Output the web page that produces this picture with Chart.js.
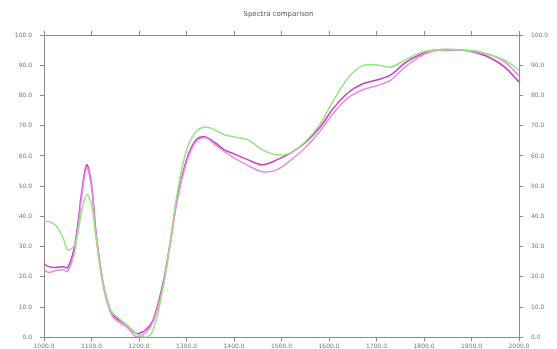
<!DOCTYPE html>
<html>
<head>
<meta charset="utf-8">
<script src="https://cdn.jsdelivr.net/npm/chart.js@4/dist/chart.umd.min.js"></script>
<style>
  html, body { margin: 0; padding: 0; background: #fff; }
</style>
</head>
<body>
<canvas id="spectraChart" width="557" height="349"></canvas>
<script>
// wavelength positions (x axis)
const wavelengths = [1000, 1010, 1025, 1040, 1050, 1065, 1080, 1090, 1100, 1110, 1125, 1140, 1150, 1175, 1190, 1200, 1215, 1230, 1250, 1265, 1280, 1300, 1320, 1340, 1360, 1380, 1400, 1430, 1460, 1490, 1520, 1550, 1580, 1610, 1640, 1670, 1700, 1730, 1760, 1790, 1820, 1850, 1880, 1910, 1940, 1970, 2000];

const sampleA = [24.4, 23.4, 23.1, 23.4, 23.1, 30.7, 48.8, 57.1, 50.5, 34, 17.5, 8.6, 6.6, 4, 1.7, 1.3, 2.6, 5.9, 17.5, 30.7, 45.5, 58.7, 65.3, 66.3, 64.4, 62, 60.7, 58.7, 57.1, 58.7, 61, 64.4, 69.3, 75.9, 80.9, 83.8, 85.1, 86.8, 90.8, 93.4, 95, 95, 95, 94.1, 92.4, 89.4, 84.5];

const sampleB = [22.4, 21.5, 22.1, 22.4, 21.8, 29, 47.2, 56.1, 49.5, 33, 16.5, 8.3, 5.9, 3.3, 0.7, 0.3, 1.7, 5.3, 16.5, 29.7, 44.9, 57.8, 64.7, 66, 63.7, 61.4, 59.4, 56.8, 54.8, 55.4, 58.7, 62.7, 68, 74.3, 79.2, 81.8, 83.2, 85.1, 89.4, 92.7, 94.7, 95, 95, 94.4, 93.4, 91.1, 86.5];

const reference = [38.3, 38.3, 37, 33, 29, 30.7, 42.2, 47.2, 43.9, 32.3, 17.5, 9.2, 7.3, 4, 1.7, 0.7, 0, 2.6, 15.8, 30.7, 47.2, 62, 68, 69.6, 68.6, 67, 66.3, 65.3, 62, 60.4, 61, 64.7, 70.3, 78.5, 85.8, 89.8, 90.1, 89.4, 91.7, 94.1, 95, 95.4, 95, 94.7, 93.4, 91.7, 88.4];

const xMin = 1000, xMax = 2000, xStep = 100;
const yMin = 0, yMax = 100, yStep = 10;

const toPoints = vals => vals.map((v, i) => ({ x: wavelengths[i], y: v }));

const axisColor = '#8a8a8a';
const labelColor = '#777';
const tickFont = { family: 'DejaVu Sans', size: 6 };

const ctx = document.getElementById('spectraChart').getContext('2d');
new Chart(ctx, {
  type: 'line',
  data: {
    datasets: [
      { label: 'Reference', data: toPoints(reference), borderColor: '#98e482', borderWidth: 1.5 },
      { label: 'Sample B', data: toPoints(sampleB), borderColor: '#e48ee4', borderWidth: 1.5 },
      { label: 'Sample A', data: toPoints(sampleA), borderColor: '#c63cc0', borderWidth: 1.5 }
    ]
  },
  options: {
    responsive: false,
    animation: false,
    elements: {
      point: { radius: 0 },
      line: { tension: 0.35, fill: false }
    },
    layout: { padding: 0 },
    plugins: {
      legend: { display: false },
      tooltip: { enabled: false },
      title: {
        display: true,
        text: 'Spectra comparison',
        color: '#555',
        font: { family: 'DejaVu Sans', size: 7, weight: 'normal' },
        padding: { top: 10, bottom: 6 }
      }
    },
    scales: {
      x: {
        type: 'linear',
        position: 'bottom',
        min: xMin, max: xMax,
        ticks: { stepSize: xStep, color: labelColor, font: tickFont, padding: 1, maxRotation: 0,
                 callback: v => v.toFixed(1) },
        grid: { drawOnChartArea: false, drawTicks: true, tickLength: 4, color: axisColor },
        border: { color: axisColor, width: 1 },
        afterFit: s => { s.height = 11; }
      },
      x2: {
        type: 'linear',
        position: 'top',
        min: xMin, max: xMax,
        ticks: { stepSize: xStep, display: false },
        grid: { drawOnChartArea: false, drawTicks: true, tickLength: 4, color: axisColor },
        border: { color: axisColor, width: 1 },
        afterFit: s => { s.height = 10.6; }
      },
      y: {
        position: 'left',
        min: yMin, max: yMax,
        ticks: { stepSize: yStep, color: labelColor, font: tickFont, padding: 8,
                 callback: v => v.toFixed(1) },
        grid: { drawOnChartArea: false, drawTicks: true, tickLength: 4, color: axisColor },
        border: { color: axisColor, width: 1 },
        afterFit: s => { s.width = 44; }
      },
      y2: {
        position: 'right',
        min: yMin, max: yMax,
        ticks: { stepSize: yStep, color: labelColor, font: tickFont, padding: 8,
                 callback: v => v.toFixed(1) },
        grid: { drawOnChartArea: false, drawTicks: true, tickLength: 4, color: axisColor },
        border: { color: axisColor, width: 1 },
        afterFit: s => { s.width = 38; }
      }
    }
  }
});
</script>
</body>
</html>
